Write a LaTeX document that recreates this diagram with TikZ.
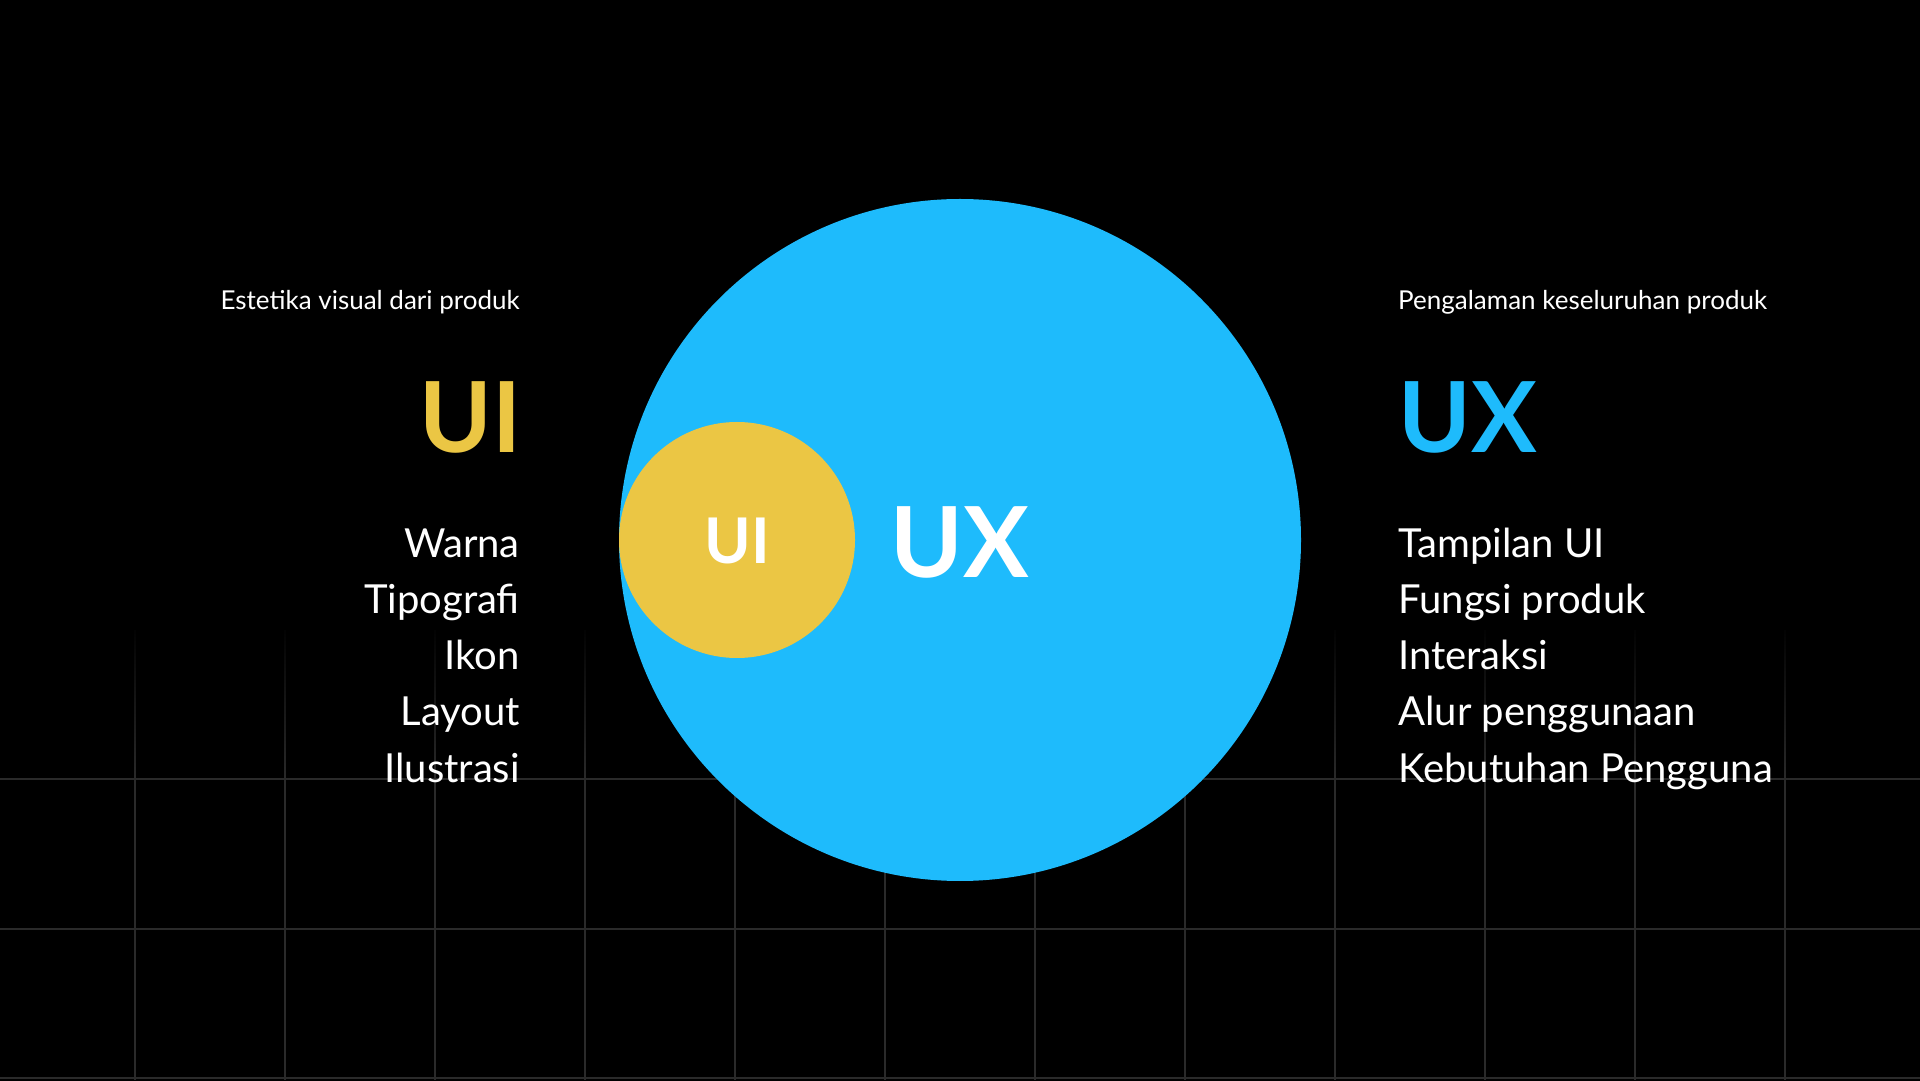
\documentclass[tikz,border=0pt]{standalone}
\usepackage{fontspec}
\setmainfont{Lato}
\usetikzlibrary{positioning, fadings}
\definecolor{uxblue}{HTML}{1EBBFC}
\definecolor{uiyellow}{HTML}{EBC644}
\definecolor{gridgray}{HTML}{2A2A2A}
\newcommand{\subtitlesize}{\fontsize{26}{31}\selectfont}
\newcommand{\listsize}{\fontsize{40}{48}\selectfont}
\newcommand{\headsize}{\fontsize{98}{110}\selectfont\bfseries}

\begin{document}
\begin{tikzpicture}[x = 1pt, y = 1pt]
  \tikzset{
    blob/.style = {circle, inner sep = 0pt, draw = none, fill = #1},
    subtitle/.style = {text = white, inner sep = 0pt, font = \subtitlesize},
    listitem/.style = {text = white, inner sep = 0pt, font = \listsize},
    heading/.style = {text = #1, inner sep = 0pt, font = \headsize},
    gridline/.style = {draw = gridgray, line width = 2pt}
  }

  \useasboundingbox (0,0) rectangle (1920,1080);
  \fill[black] (-20,-20) rectangle (1940,1100);

  % background grid, fading out upwards
  \foreach \x in {135,285,...,1785}
    \draw[gridline] (\x,0) -- (\x,450);
  \foreach \y in {2,151,301}
    \draw[gridline] (-20,\y) -- (1940,\y);
  \fill[black, path fading = south] (-20,302) rectangle (1940,462);

  \node[blob = uxblue, minimum size = 682pt] (uxcircle) at (960,540) {};
  \node[blob = uiyellow, minimum size = 236pt] (uicircle) at (737,540) {};
  \node[heading = white, font = \fontsize{63}{70}\selectfont\bfseries, anchor = base] (uiinner) at (uicircle.center |- 0,516) {UI};
  \node[heading = white, anchor = base] (uxinner) at (960,502) {UX};

  % left column
  \node[subtitle, anchor = base east] (uisub) at (520,770) {Estetika visual dari produk};
  \node[heading = uiyellow, anchor = base east] (uihead) at (522,627) {UI};
  \foreach \txt [count = \i] in {Warna, Tipografi, Ikon, Layout, Ilustrasi}
    \node[listitem, anchor = base east] (uiitem\i) at (520, 578 - 56*\i) {\txt};

  % right column
  \node[subtitle, anchor = base west] (uxsub) at (1398,770) {Pengalaman keseluruhan produk};
  \node[heading = uxblue, anchor = base west] (uxhead) at (1398,627) {UX};
  \foreach \txt [count = \i] in {Tampilan UI, Fungsi produk, Interaksi, Alur penggunaan, Kebutuhan Pengguna}
    \node[listitem, anchor = base west] (uxitem\i) at (1398, 578 - 56*\i) {\txt};
\end{tikzpicture}
\end{document}
